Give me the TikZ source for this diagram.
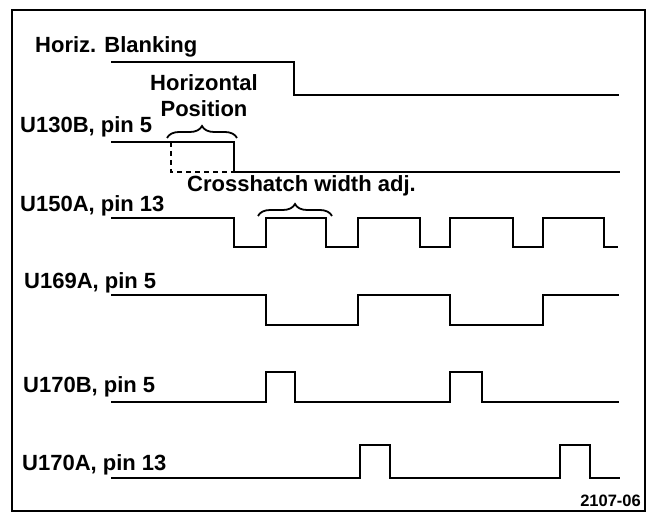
\documentclass[tikz,border=0pt]{standalone}
\usepackage{fontspec}
\setmainfont{Liberation Sans}
\usetikzlibrary{decorations.pathreplacing}
\begin{document}
\begin{tikzpicture}[x=1pt,y=-1pt,
  sig/.style={line width=2pt, line join=miter},
  lbl/.style={anchor=base west, inner sep=0pt, font=\fontsize{22}{24}\selectfont\bfseries},
  bracemark/.style={line width=1.8pt, decorate, decoration={brace, amplitude=12pt}}]
\useasboundingbox (0,0) rectangle (651,513);
\draw[line width=2pt] (12,10) rectangle (645,511);
% labels
\node[lbl] (hb) at (35,53) {Horiz. Blanking};
\node[lbl] (u130) at (20,133) {U130B, pin 5};
\node[lbl] (u150) at (20,212) {U150A, pin 13};
\node[lbl] (u169) at (24,288) {U169A, pin 5};
\node[lbl] (u170b) at (23,392) {U170B, pin 5};
\node[lbl] (u170a) at (22,470) {U170A, pin 13};
\node[lbl, anchor=base] (hp1) at (204,91) {Horizontal};
\node[lbl, anchor=base] (hp2) at (204,117) {Position};
\node[lbl] (cw) at (187,192) {Crosshatch width adj.};
\node[lbl, anchor=base east, font=\fontsize{16.5}{18}\selectfont\bfseries] (fig) at (641,506) {2107-06};
% waveforms
\draw[sig] (111,62) -- (294,62) -- (294,95) -- (619,95);
\draw[sig] (111,142) -- (234,142) -- (234,172) -- (620,172);
\draw[sig, dashed, dash pattern=on 5pt off 4pt] (171,142) -- (171,172) -- (234,172);
\draw[sig] (111,218) -- (234,218) -- (234,247) -- (266,247) -- (266,218) -- (326,218) -- (326,247) -- (358,247) -- (358,218) -- (420,218) -- (420,247) -- (450,247) -- (450,218) -- (513,218) -- (513,247) -- (543,247) -- (543,218) -- (604,218) -- (604,247) -- (618,247);
\draw[sig] (111,295) -- (266,295) -- (266,325) -- (358,325) -- (358,295) -- (450,295) -- (450,325) -- (543,325) -- (543,295) -- (619,295);
\draw[sig] (111,402) -- (266,402) -- (266,372) -- (295,372) -- (295,402) -- (450,402) -- (450,372) -- (482,372) -- (482,402) -- (619,402);
\draw[sig] (111,478) -- (360,478) -- (360,445) -- (390,445) -- (390,478) -- (560,478) -- (560,445) -- (590,445) -- (590,478) -- (620,478);
% braces
\draw[bracemark] (167,138) -- (237,138);
\draw[bracemark] (258,216) -- (332,216);
\end{tikzpicture}
\end{document}
